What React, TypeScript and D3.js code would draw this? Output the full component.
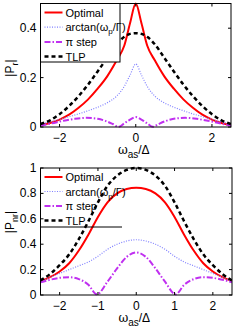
import * as d3 from "d3";

// top panel |P_r|
const xTop = [-2.5, -2.25, -2, -1.75, -1.5, -1.25, -1, -0.75, -0.5, -0.3, -0.15, 0, 0.15, 0.3, 0.5, 0.75, 1, 1.25, 1.5, 1.75, 2, 2.25, 2.5];
const optTop = [0.007, 0.016, 0.03, 0.05, 0.078, 0.112, 0.155, 0.205, 0.27, 0.33, 0.42, 0.5, 0.42, 0.33, 0.27, 0.205, 0.155, 0.112, 0.078, 0.05, 0.03, 0.016, 0.007];
const arcTop = [0.012, 0.021, 0.031, 0.042, 0.053, 0.066, 0.08, 0.098, 0.125, 0.165, 0.21, 0.255, 0.21, 0.165, 0.125, 0.098, 0.08, 0.066, 0.053, 0.042, 0.031, 0.021, 0.012];
const tlpTop = [0.012, 0.027, 0.052, 0.085, 0.125, 0.172, 0.225, 0.28, 0.335, 0.365, 0.377, 0.38, 0.377, 0.365, 0.335, 0.28, 0.225, 0.172, 0.125, 0.085, 0.052, 0.027, 0.012];
const xPiTop = [-2.5, -2.2, -1.9, -1.6, -1.3, -1.0, -0.8, -0.6, -0.45, -0.3, -0.15, 0, 0.15, 0.3, 0.45, 0.6, 0.8, 1.0, 1.3, 1.6, 1.9, 2.2, 2.5];
const piTop = [0.006, 0.015, 0.025, 0.033, 0.037, 0.033, 0.025, 0.012, 0.001, 0.015, 0.03, 0.04, 0.03, 0.015, 0.001, 0.012, 0.025, 0.033, 0.037, 0.033, 0.025, 0.015, 0.006];

// bottom panel |P_nr|
const xBot = [-2.5, -2.25, -2, -1.75, -1.5, -1.25, -1, -0.75, -0.5, -0.25, 0, 0.25, 0.5, 0.75, 1, 1.25, 1.5, 1.75, 2, 2.25, 2.5];
const optBot = [0.11, 0.14, 0.185, 0.25, 0.35, 0.475, 0.615, 0.73, 0.8, 0.835, 0.845, 0.835, 0.8, 0.73, 0.615, 0.475, 0.35, 0.25, 0.185, 0.14, 0.11];
const arcBot = [0.105, 0.14, 0.17, 0.2, 0.23, 0.26, 0.305, 0.36, 0.4, 0.425, 0.435, 0.425, 0.4, 0.36, 0.305, 0.26, 0.23, 0.2, 0.17, 0.14, 0.105];
const tlpBot = [0.115, 0.165, 0.235, 0.32, 0.44, 0.58, 0.73, 0.86, 0.94, 0.985, 1.0, 0.985, 0.94, 0.86, 0.73, 0.58, 0.44, 0.32, 0.235, 0.165, 0.115];
const xPiBot = [-2.5, -2.25, -2, -1.75, -1.5, -1.25, -1.03, -0.75, -0.5, -0.25, 0, 0.25, 0.5, 0.75, 1.03, 1.25, 1.5, 1.75, 2, 2.25, 2.5];
const piBot = [0.1, 0.12, 0.135, 0.14, 0.125, 0.08, 0.005, 0.105, 0.21, 0.3, 0.335, 0.3, 0.21, 0.105, 0.005, 0.08, 0.125, 0.14, 0.135, 0.12, 0.1];

const legendNames = ["Optimal", "arctan", "π step", "TLP"];
const styles = [
  { stroke: "#ff0000", width: 2, dash: "" },
  { stroke: "#8080ff", width: 1.2, dash: "1,1.5" },
  { stroke: "#c030f0", width: 2, dash: "6,2,1.5,2" },
  { stroke: "#000000", width: 2.5, dash: "4,3" },
];

const font = "'Liberation Sans', Arial, sans-serif";

type PanelProps = {
  left: number; right: number; top: number; bottom: number;
  yMax: number; yTicks: number[]; xTicks: number[];
  series: { x: number[]; y: number[] }[];
  ylabel: string; ylabelY: number;
  legendBottom: number; legendRight: number; legendFull: boolean;
  legendY0: number; legendStep: number;
};

function Panel(p: PanelProps) {
  const x = d3.scaleLinear().domain([-2.5, 2.5]).range([p.left, p.right]);
  const y = d3.scaleLinear().domain([0, p.yMax]).range([p.bottom, p.top]);
  const line = (xs: number[], ys: number[]) =>
    d3.line<number>().x((_, i) => x(xs[i])).y((d) => y(d)).curve(d3.curveMonotoneX)(ys) || "";
  const tl = 3;
  return (
    <g>
      <defs>
        <clipPath id={"c" + p.top}>
          <rect x={p.left} y={p.top - 2} width={p.right - p.left} height={p.bottom - p.top + 4} />
        </clipPath>
      </defs>
      <g clipPath={`url(#c${p.top})`}>
        {p.series.map((s, i) => (
          <path key={i} d={line(s.x, s.y)} fill="none" stroke={styles[i].stroke}
            strokeWidth={styles[i].width} strokeDasharray={styles[i].dash} />
        ))}
      </g>
      <rect x={p.left} y={p.top} width={p.right - p.left} height={p.bottom - p.top}
        fill="none" stroke="#000" strokeWidth={1} />
      {p.yTicks.map((t) => (
        <g key={"y" + t}>
          <line x1={p.left} x2={p.left + tl} y1={y(t)} y2={y(t)} stroke="#000" />
          <line x1={p.right} x2={p.right - tl} y1={y(t)} y2={y(t)} stroke="#000" />
          <text x={p.left - 4} y={y(t) + 4} textAnchor="end" fontSize={12}>{String(t)}</text>
        </g>
      ))}
      {p.xTicks.map((t) => (
        <g key={"x" + t}>
          <line x1={x(t)} x2={x(t)} y1={p.bottom} y2={p.bottom - tl} stroke="#000" />
          <line x1={x(t)} x2={x(t)} y1={p.top} y2={p.top + tl} stroke="#000" />
          <text x={x(t)} y={p.bottom + 15} textAnchor="middle" fontSize={12}>{t < 0 ? "\u2212" + Math.abs(t) : String(t)}</text>
        </g>
      ))}
      <text x={x(0) - 2} y={p.bottom + 27} textAnchor="middle" fontSize={12}>
        <tspan fontFamily="'DejaVu Serif', serif">ω</tspan>
        <tspan dy={4} fontSize={10}>as</tspan>
        <tspan dy={-4}>/Δ</tspan>
      </text>
      <text transform={`translate(14,${p.ylabelY}) rotate(-90)`} textAnchor="middle" fontSize={12}>
        |P<tspan dy={4} fontSize={9}>{p.ylabel}</tspan><tspan dy={-4}>|</tspan>
      </text>
      {p.legendFull ? (
        <rect x={p.left} y={p.top} width={p.legendRight - p.left} height={p.legendBottom - p.top}
          fill="#fff" stroke="#000" strokeWidth={1} />
      ) : (
        <line x1={p.left} x2={p.legendRight} y1={p.legendBottom} y2={p.legendBottom} stroke="#000" />
      )}
      {legendNames.map((n, i) => {
        const ly = p.legendY0 + i * p.legendStep;
        return (
          <g key={n}>
            <line x1={p.left + 4} x2={p.left + 22} y1={ly} y2={ly} stroke={styles[i].stroke}
              strokeWidth={styles[i].width} strokeDasharray={styles[i].dash} />
            <text x={p.left + 25} y={ly + 4} fontSize={11}>
              {i === 1 ? (
                <>arctan(ω<tspan dy={3} fontSize={8}>p</tspan><tspan dy={-3}>/Γ)</tspan></>
              ) : n}
            </text>
          </g>
        );
      })}
    </g>
  );
}

export default function App() {
  return (
    <svg width={248} height={330} style={{ position: "absolute", left: 0, top: 0, background: "#fff" }}
      fontFamily={font}>
      <Panel left={40.5} right={231} top={3.5} bottom={127} yMax={0.5}
        yTicks={[0, 0.2, 0.4]} xTicks={[-2, 0, 2]}
        series={[{ x: xTop, y: optTop }, { x: xTop, y: arcTop }, { x: xPiTop, y: piTop }, { x: xTop, y: tlpTop }]}
        ylabel="r" ylabelY={68} legendBottom={62} legendRight={120} legendFull={true}
        legendY0={12.5} legendStep={14.7} />
      <Panel left={40.5} right={232} top={168} bottom={295} yMax={1}
        yTicks={[0, 0.2, 0.4, 0.6, 0.8, 1]} xTicks={[-2, -1, 0, 1, 2]}
        series={[{ x: xBot, y: optBot }, { x: xBot, y: arcBot }, { x: xPiBot, y: piBot }, { x: xBot, y: tlpBot }]}
        ylabel="nr" ylabelY={222} legendBottom={227} legendRight={122} legendFull={false}
        legendY0={177} legendStep={14.5} />
    </svg>
  );
}
